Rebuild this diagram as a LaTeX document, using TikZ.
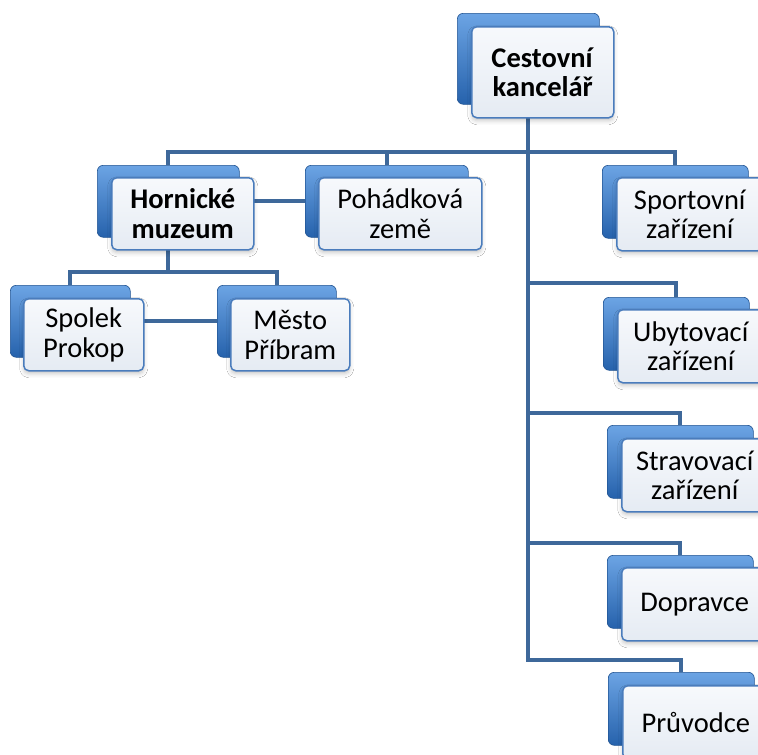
\documentclass[tikz,border=0pt]{standalone}
\usepackage{fontspec}
\setmainfont{Carlito}
\usetikzlibrary{shadows.blur}
\definecolor{bluetop}{RGB}{108,164,228}
\definecolor{bluebot}{RGB}{38,98,172}
\definecolor{conn}{RGB}{62,104,154}
\definecolor{frborder}{RGB}{74,124,188}
\definecolor{frtop}{RGB}{247,249,252}
\definecolor{frbot}{RGB}{229,235,243}
\tikzset{
  backbox/.style={anchor=north west, inner sep=0pt, rounded corners=6pt,
    top color=bluetop, bottom color=bluebot, draw=bluebot!85!black, line width=0.6pt},
  frontbox/.style={anchor=north west, inner sep=0pt, rounded corners=5pt,
    top color=frtop, bottom color=frbot, draw=frborder, line width=1.5pt,
    align=center, text=black, font=\fontsize{28.5}{29.5}\selectfont,
    blur shadow={shadow xshift=0pt, shadow yshift=-3pt, shadow blur radius=4pt, shadow opacity=22}},
  connector/.style={draw=conn, line width=4.3pt},
}
% back box: name, x, y, width, height
\newcommand{\backbox}[5]{%
  \node[backbox, minimum width=#4pt, minimum height=#5pt] (#1b) at (#2,#3) {};
}
% front box: name, x, y, width, height, text
\newcommand{\frontbox}[6]{%
  \node[frontbox, minimum width=#4pt, minimum height=#5pt] (#1) at (#2,#3) {#6};
}
\begin{document}
\begin{tikzpicture}[x=1pt,y=-1pt]
\path[use as bounding box, clip] (0,0) rectangle (758,755);
\fill[white] (0,0) rectangle (758,755);
% --- back boxes ---
\backbox{cest}{457}{13}{142}{91}
\backbox{horn}{97}{165}{142}{72}
\backbox{poh}{305}{165}{163}{72}
\backbox{spol}{10}{285}{120}{72}
\backbox{mest}{217}{285}{119}{72}
\backbox{sport}{602}{165}{146}{73}
\backbox{ubyt}{603}{297}{146}{73}
\backbox{strav}{607}{425}{146}{73}
\backbox{dopr}{607}{555}{146}{73}
\backbox{pruv}{608}{672}{146}{73}
% --- connectors ---
\draw[connector] (hornb.north) -- ++(0,-13) -| (sportb.north);
\draw[connector] (pohb.north) -- (pohb.north |- 0,152);
\draw[connector] (cestb.south) -- (cestb.south |- 0,660) -| (pruvb.north);
\draw[connector] (cestb.south |- 0,283) -| (ubytb.north);
\draw[connector] (cestb.south |- 0,413) -| (stravb.north);
\draw[connector] (cestb.south |- 0,543) -| (doprb.north);
\draw[connector] (hornb.east) -- (pohb.west);
\draw[connector] (hornb.south) -- ++(0,35);
\draw[connector] (spolb.north) -- ++(0,-13) -| (mestb.north);
\draw[connector] (spolb.east) -- (mestb.west);
% --- front boxes ---
\frontbox{cest}{471}{26}{142}{91}{\textbf{Cestovní}\\\textbf{kancelář}}
\frontbox{horn}{111}{177}{142}{72}{\textbf{Hornické}\\\textbf{muzeum}}
\frontbox{poh}{318}{177}{163}{72}{Pohádková\\země}
\frontbox{spol}{23}{298}{120}{72}{Spolek\\Prokop}
\frontbox{mest}{230}{298}{119}{72}{Město\\Příbram}
\frontbox{sport}{616}{177}{146}{73}{Sportovní\\zařízení}
\frontbox{ubyt}{617}{309}{146}{73}{Ubytovací\\zařízení}
\frontbox{strav}{621}{438}{146}{73}{Stravovací\\zařízení}
\frontbox{dopr}{621}{567}{146}{73}{Dopravce}
\frontbox{pruv}{622}{685}{146}{73}{Průvodce}
\end{tikzpicture}
\end{document}
